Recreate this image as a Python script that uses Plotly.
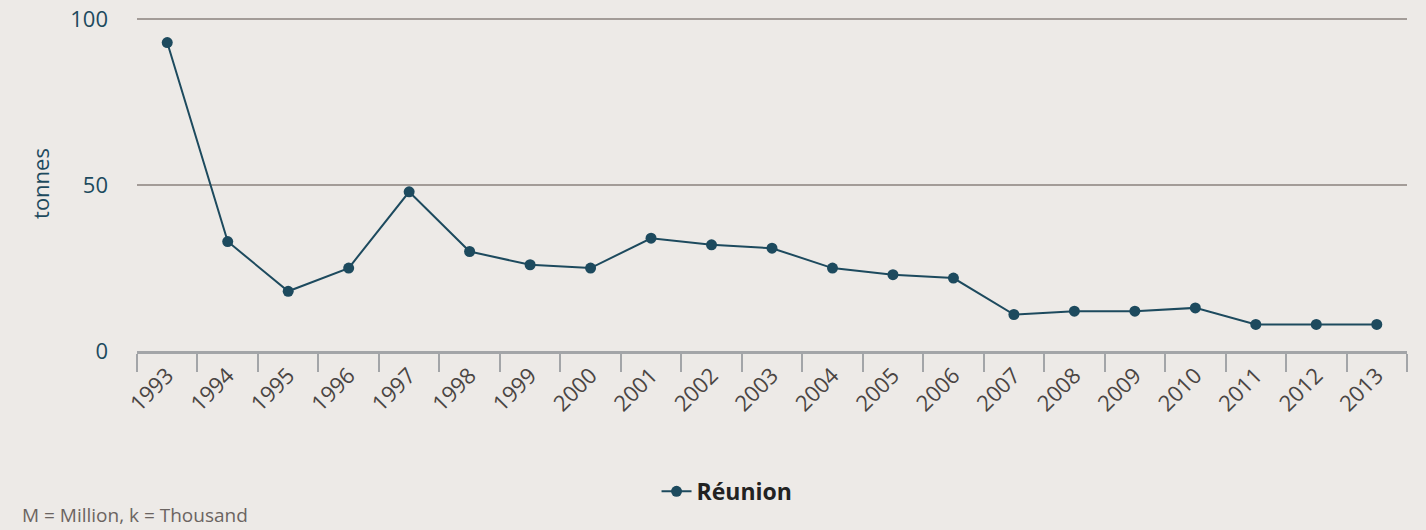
import plotly.graph_objects as go

years = [str(y) for y in range(1993, 2014)]
tonnes = [93, 33, 18, 25, 48, 30, 26, 25, 34, 32, 31, 25, 23, 22, 11, 12, 12, 13, 8, 8, 8]

line_col = "#1d4a5e"
bg = "#edeae7"
axis_col = "#a3a5a8"

fig = go.Figure()
fig.add_trace(go.Scatter(
    x=years, y=tonnes, name="Réunion", mode="lines+markers",
    line=dict(color=line_col, width=2),
    marker=dict(color=line_col, size=11),
))

# plot area: x 137..1407, y 19..351 (0..100)
fig.update_layout(
    width=1426, height=530,
    paper_bgcolor=bg, plot_bgcolor=bg,
    margin=dict(l=137, r=19, t=16, b=179),
    font=dict(family="Open Sans", color="#444"),
    showlegend=True,
    legend=dict(orientation="h", x=0.4646, xanchor="center", y=-0.419, yanchor="middle",
                font=dict(size=23, color="#222", family="Open Sans", weight="bold"),
                itemwidth=30),
    annotations=[dict(text="M = Million, k = Thousand", xref="paper", yref="paper",
                      x=-117/1270, xanchor="left", y=-0.49, yanchor="middle",
                      showarrow=False, font=dict(size=19, color="#6b6461"))],
)
fig.update_xaxes(
    type="category", tickson="boundaries", ticks="outside", ticklen=18,
    tickcolor=axis_col, tickwidth=2, showline=True, linecolor=axis_col, linewidth=3,
    showgrid=False, tickangle=-45, tickfont=dict(size=22, color="#4a4543"),
    range=[-0.5, 20.5], automargin=False,
)
fig.update_yaxes(
    range=[0, 101], tickvals=[0, 50, 100], showgrid=True, gridcolor="#a39c98", gridwidth=2,
    zeroline=False, tickfont=dict(size=22, color=line_col), ticklabelstandoff=28,
    title=dict(text="tonnes", font=dict(size=22, color=line_col), standoff=14),
    automargin=False,
)

fig.write_html(
    "out.html",
    config={"displayModeBar": False},
    post_script="document.body.style.margin='0';document.body.style.background='%s';" % bg,
)
